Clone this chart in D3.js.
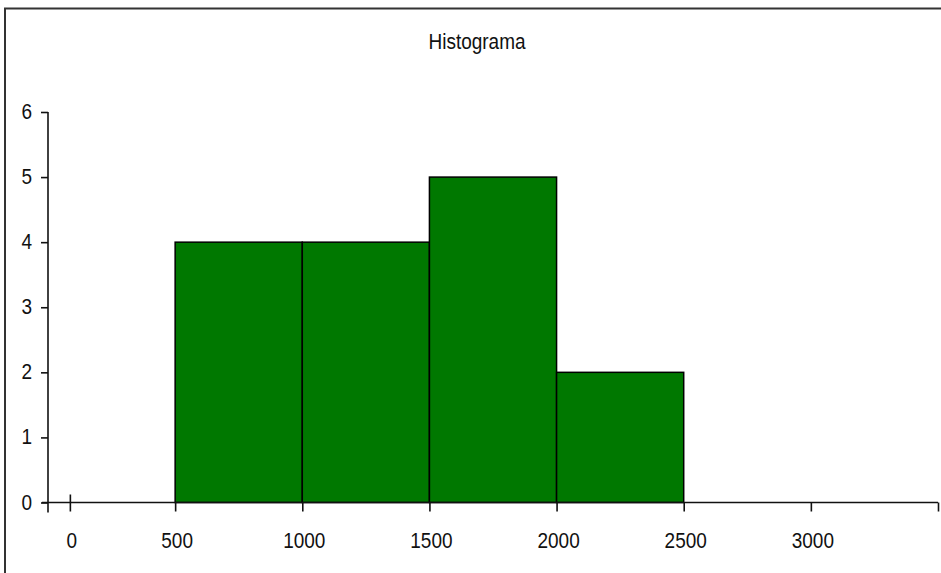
<!DOCTYPE html>
<html>
<head>
<meta charset="utf-8">
<script src="https://cdn.jsdelivr.net/npm/d3@7"></script>
<style>
  html, body { margin: 0; padding: 0; background: #fff; }
  svg { display: block; }
  text { font-family: "Liberation Sans", Arial, sans-serif; fill: #111; }
</style>
</head>
<body>
<script>
// ---- data ----
const title = "Histograma";
const binStarts = [500, 1000, 1500, 2000];
const binEnds   = [1000, 1500, 2000, 2500];
const counts    = [4, 4, 5, 2];
const xTickValues = [86, 500, 1000, 1500, 2000, 2500, 3000, 3500];
const xTickLabels = ["0", "500", "1000", "1500", "2000", "2500", "3000", ""];
const yTickValues = [0, 1, 2, 3, 4, 5, 6];

// ---- setup ----
const W = 941, H = 573;
const svg = d3.select("body").append("svg").attr("width", W).attr("height", H);

svg.append("rect").attr("x", 5).attr("y", 8.5).attr("width", 960).attr("height", 600)
  .attr("fill", "#fff").attr("stroke", "#333").attr("stroke-width", 2);

const x = d3.scaleLinear().domain([0, 3500]).range([48, 938]);
const y = d3.scaleLinear().domain([0, 6]).range([502.5, 112]);

const FS = 19, SY = 1.2;
function label(g, tx, ty, txt, anchor) {
  g.append("text")
    .attr("transform", `translate(${tx},${ty}) scale(1,${SY})`)
    .attr("text-anchor", anchor)
    .style("font-size", FS + "px")
    .text(txt);
}

// title
label(svg, 477, 49, title, "middle");

// bars
const bars = binStarts.map((s, i) => ({ s, e: binEnds[i], c: counts[i] }));
svg.append("g").selectAll("rect").data(bars).join("rect")
  .attr("x", d => x(d.s))
  .attr("y", d => y(d.c))
  .attr("width", d => x(d.e) - x(d.s))
  .attr("height", d => y(0) - y(d.c))
  .attr("fill", "#007800")
  .attr("stroke", "#000")
  .attr("stroke-width", 1.5);

// y axis
const yAxis = svg.append("g").attr("transform", `translate(${x(0)},0)`)
  .call(d3.axisLeft(y).tickValues(yTickValues).tickSize(7).tickFormat(""));
yAxis.select(".domain").attr("d", `M0,${y(6)}V${y(0) + 10}`);
yAxis.selectAll("line, path").attr("stroke", "#111").attr("stroke-width", 1.6);
yTickValues.forEach(v => label(svg, 32, y(v) + 7, String(v), "end"));

// x axis
const xAxis = svg.append("g").attr("transform", `translate(0,${y(0)})`)
  .call(d3.axisBottom(x).tickValues(xTickValues).tickSize(9).tickFormat(""));
xAxis.select(".domain").attr("d", `M${x(0) - 6},0H${x(3500)}`);
xAxis.selectAll(".tick line").filter(d => d === xTickValues[0]).attr("y1", -8);
xAxis.selectAll("line, path").attr("stroke", "#111").attr("stroke-width", 1.6);
xTickValues.forEach((v, i) => label(svg, x(v) + 2, 548, xTickLabels[i], "middle"));
</script>
</body>
</html>
